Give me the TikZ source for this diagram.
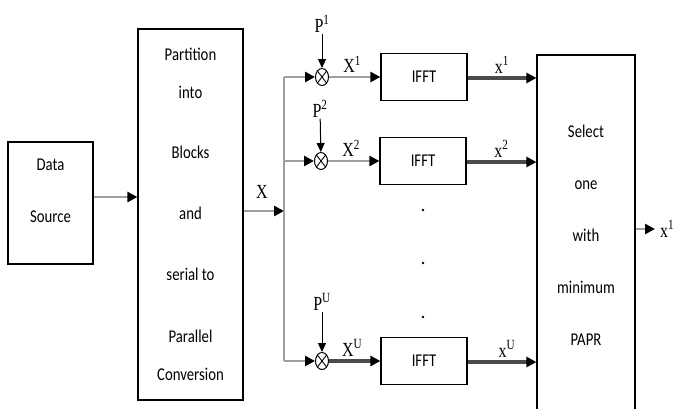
\documentclass[tikz,border=0pt]{standalone}
\usepackage{fontspec}
\setmainfont{Carlito}[FakeStretch=0.82]
\newfontfamily\serifl{Liberation Serif}[FakeStretch=0.8]
\usetikzlibrary{arrows.meta, shapes.geometric}
\definecolor{cline}{RGB}{160,160,160}
\definecolor{cout}{RGB}{75,75,75}

\begin{document}
\begin{tikzpicture}[x=1pt, y=-1pt, font=\fontsize{18}{18}\selectfont, >={Triangle[length=9pt, width=9pt]},
    blk/.style={draw, line width=1.2pt, inner sep=0pt, align=center},
    ifft/.style={blk, minimum width=86pt, minimum height=47pt},
    mult/.style={draw, ellipse, line width=1pt, minimum width=13pt, minimum height=17pt, inner sep=0pt,
      path picture={\draw[line width=0.9pt] (path picture bounding box.north west) -- (path picture bounding box.south east)
        (path picture bounding box.north east) -- (path picture bounding box.south west);}},
    lab/.style={font=\serifl\fontsize{20}{20}\selectfont, inner sep=1pt},
    feed/.style={->, cline, line width=2.8pt, arrows={-Triangle[length=10pt, width=10pt, black]}},
    fwd/.style={->, cout, line width=3.2pt, arrows={-Triangle[length=10pt, width=10pt, black]}},
    pin/.style={->, line width=1pt, arrows={-Triangle[length=9pt, width=8pt]}}]

  \useasboundingbox (0,0) rectangle (674,408);
  \clip (0,0) rectangle (674,408);

  % blocks
  \node[blk, minimum width=85pt, minimum height=122pt] (src) at (50.5,203) {Data\\[34pt]Source\\[6pt]\mbox{}};
  \node[blk, minimum width=105pt, minimum height=371pt] (part) at (190.5,214.5)
    {Partition\\[20pt]into\\[42pt]Blocks\\[43pt]and\\[43pt]serial to\\[44pt]Parallel\\[20pt]Conversion};
  \node[blk, minimum width=98pt, minimum height=360pt] (sel) at (586,235)
    {Select\\[34pt]one\\[34pt]with\\[34pt]minimum\\[34pt]PAPR};

  % multipliers and IFFT branches
  \node[mult] (m1) at (322,77) {};
  \node[mult] (m2) at (321,161) {};
  \node[mult] (mu) at (322,361) {};
  \node[ifft] (f1) at (424,77) {IFFT};
  \node[ifft] (f2) at (423,161) {IFFT};
  \node[ifft] (fu) at (424,361) {IFFT};

  \node[lab] (p1) at (322,24) {P\textsuperscript{1}};
  \node[lab] (p2) at (320,109) {P\textsuperscript{2}};
  \node[lab] (pu) at (322,302) {P\textsuperscript{U}};

  \coordinate (split) at (284,211);
  \coordinate (top) at (284,77);
  \coordinate (mid) at (284,161);
  \coordinate (bot) at (284,361);
  \coordinate (out) at (655,229);

  % flows
  \draw[feed] (src.east |- 0,197) -- (part.west |- 0,197);
  \draw[feed] (part.east |- split) -- node[lab, above=10pt, pos=0.45, text=black] (xlab) {X} (split);
  \draw[cline, line width=2.8pt] (top) -- (bot);
  \draw[feed] (top) -- (m1);
  \draw[feed] (mid) -- (m2);
  \draw[feed] (bot) -- (mu);

  \draw[pin] (p1) -- (m1);
  \draw[pin] (p2) -- (m2);
  \draw[pin] (pu) -- (mu);

  \draw[feed] (m1) -- node[lab, above=2pt, pos=0.45, text=black] (X1) {X\textsuperscript{1}} (f1);
  \draw[feed] (m2) -- node[lab, above=2pt, pos=0.45, text=black] (X2) {X\textsuperscript{2}} (f2);
  \draw[fwd] (mu) -- node[lab, above=2pt, pos=0.45, text=black] (XU) {X\textsuperscript{U}} (fu);

  \draw[fwd] (f1.east |- 0,78) -- node[lab, above=2pt, text=black] (x1) {x\textsuperscript{1}} (sel.west |- 0,78);
  \draw[fwd] (f2.east |- 0,162) -- node[lab, above=2pt, text=black] (x2) {x\textsuperscript{2}} (sel.west |- 0,162);
  \draw[fwd] (fu.east |- 0,362) -- node[lab, above=2pt, pos=0.57, text=black] (xu) {x\textsuperscript{U}} (sel.west |- 0,362);

  \draw[feed] (sel.east |- out) -- (out);
  \node[lab, anchor=west, inner sep=0pt] (xo) at (660,229) {x\textsuperscript{1}};

  % dots
  \foreach \y in {210,263,317}
    \fill (423,\y) circle (1.3pt);
\end{tikzpicture}
\end{document}
